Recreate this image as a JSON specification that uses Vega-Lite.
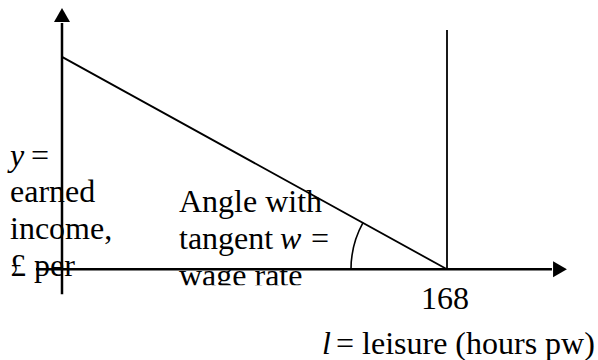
{
  "$schema": "https://vega.github.io/schema/vega-lite/v6.json",
  "width": 598,
  "height": 360,
  "padding": 0,
  "autosize": {"type": "fit", "contains": "padding"},
  "config": {"view": {"stroke": null}},
  "datasets": {
    "segs": [
      {"part": "y axis", "kind": "axis", "h": 0, "inc": -25, "h2": 0, "inc2": 247},
      {"part": "x axis", "kind": "axis", "h": -11.35, "inc": 0, "h2": 213.8, "inc2": 0},
      {"part": "budget line", "kind": "thin", "h": 0, "inc": 213, "h2": 168, "inc2": 0},
      {"part": "time limit", "kind": "thin", "h": 168, "inc": 0, "h2": 168, "inc2": 240}
    ],
    "heads": [
      {"part": "y arrow", "h": 0, "inc": 255, "shape": "triangle-up"},
      {"part": "x arrow", "h": 217.3, "inc": 0, "shape": "triangle-right"}
    ],
    "angle": [
      {"h": 168, "inc": 0, "a1": 270, "a2": 299}
    ],
    "mask": [
      {"h": 49, "inc": -16, "h2": 117, "inc2": -40}
    ],
    "texts": [
      {"label": "y", "it": true, "h": -22.69, "inc": 104},
      {"label": "=", "it": false, "h": -13.53, "inc": 104},
      {"label": "earned", "it": false, "h": -22.69, "inc": 67},
      {"label": "income,", "it": false, "h": -22.69, "inc": 30},
      {"label": "£ per", "it": false, "h": -22.69, "inc": -6.5},
      {"label": "Angle with", "it": false, "h": 51.05, "inc": 57},
      {"label": "tangent", "it": false, "h": 51.05, "inc": 20},
      {"label": "w", "it": true, "h": 95.13, "inc": 20},
      {"label": "=", "it": false, "h": 108.65, "inc": 20},
      {"label": "wage rate", "it": false, "h": 51.05, "inc": -17},
      {"label": "168", "it": false, "h": 156.65, "inc": -40},
      {"label": "l", "it": true, "h": 113.45, "inc": -85},
      {"label": "= leisure (hours pw)", "it": false, "h": 119.56, "inc": -85}
    ]
  },
  "encoding": {
    "x": {"field": "h", "type": "quantitative", "axis": null, "scale": {"domain": [-27.0545, 233.891], "nice": false, "zero": false}},
    "y": {"field": "inc", "type": "quantitative", "axis": null, "scale": {"domain": [-90, 270], "nice": false, "zero": false}}
  },
  "layer": [
    {
      "data": {"name": "texts"},
      "transform": [{"filter": "!datum.it"}],
      "mark": {"type": "text", "align": "left", "baseline": "alphabetic", "font": "Liberation Serif", "fontSize": 32, "color": "#000000"},
      "encoding": {"text": {"field": "label"}}
    },
    {
      "data": {"name": "texts"},
      "transform": [{"filter": "datum.it"}],
      "mark": {"type": "text", "align": "left", "baseline": "alphabetic", "font": "Liberation Serif", "fontSize": 32, "fontStyle": "italic", "color": "#000000"},
      "encoding": {"text": {"field": "label"}}
    },
    {
      "data": {"name": "mask"},
      "mark": {"type": "rect", "color": "#ffffff"},
      "encoding": {"x2": {"field": "h2"}, "y2": {"field": "inc2"}}
    },
    {
      "data": {"name": "segs"},
      "transform": [{"filter": "datum.kind == 'axis'"}],
      "mark": {"type": "rule", "color": "#000000", "strokeWidth": 2.5},
      "encoding": {"x2": {"field": "h2"}, "y2": {"field": "inc2"}}
    },
    {
      "data": {"name": "segs"},
      "transform": [{"filter": "datum.kind == 'thin'"}],
      "mark": {"type": "rule", "color": "#000000", "strokeWidth": 1.8},
      "encoding": {"x2": {"field": "h2"}, "y2": {"field": "inc2"}}
    },
    {
      "data": {"name": "heads"},
      "mark": {"type": "point", "filled": true, "color": "#000000", "size": 256, "opacity": 1},
      "encoding": {"shape": {"field": "shape", "type": "nominal", "scale": null, "legend": null}}
    },
    {
      "data": {"name": "angle"},
      "mark": {"type": "arc", "color": "#000000", "radius": 96.8, "radius2": 95.2},
      "encoding": {
        "theta": {"field": "a1", "type": "quantitative", "stack": null, "scale": {"domain": [0, 360], "range": [0, 6.283185]}},
        "theta2": {"field": "a2"}
      }
    }
  ]
}
